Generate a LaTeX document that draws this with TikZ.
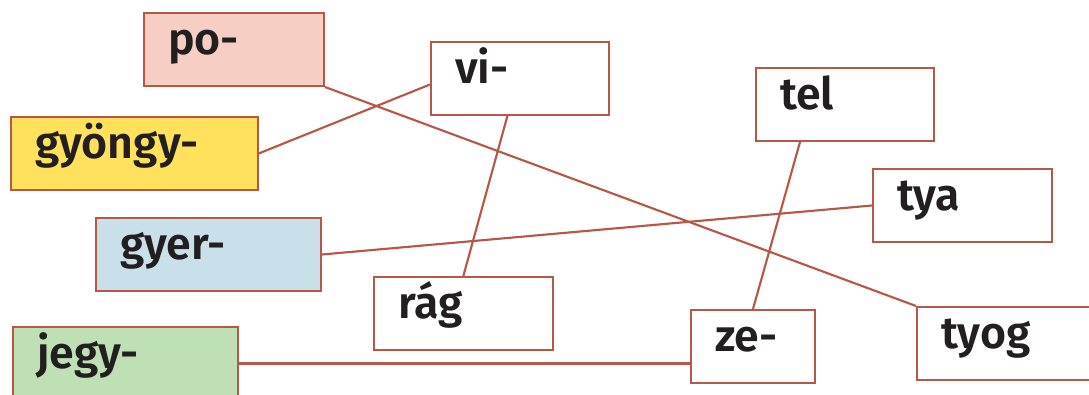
\documentclass[tikz,border=0pt]{standalone}
\usepackage{fontspec}
\setmainfont{Fira Sans}[BoldFont={Fira Sans SemiBold}]
\usepackage{tikz}
\usetikzlibrary{calc}
\definecolor{linkred}{RGB}{184, 86, 72}
\definecolor{tilepink}{RGB}{246, 206, 195}
\definecolor{tileyellow}{RGB}{255, 225, 91}
\definecolor{tileblue}{RGB}{201, 223, 233}
\definecolor{tilegreen}{RGB}{191, 224, 181}
\definecolor{inkdark}{RGB}{35, 31, 32}

\begin{document}
\begin{tikzpicture}[x=0.75pt, y=-0.75pt,
  tile/.style={draw=linkred, line width=1.5pt, fill=white, anchor=north west,
    minimum height=54.75pt, inner xsep=18pt, inner ysep=0pt, align=left,
    text=inkdark, text height=0.95em, text depth=0.2em,
    font=\fontsize{33.5}{38}\selectfont\bfseries, text width=#1},
  link/.style={draw=linkred, line width=1.6pt}]
\clip (0,0) rectangle (1089,395);
\useasboundingbox (0,0) rectangle (1089,395);

% word pieces
\node[tile=99pt, fill=tilepink] (po) at (143,12) {po-};
\node[tile=149pt, fill=tileyellow] (gyongy) at (10,116) {gyöngy-};
\node[tile=97.5pt] (vi) at (430,41) {vi-};
\node[tile=97.5pt] (tel) at (755,67) {tel};
\node[tile=98pt] (tya) at (872,168) {tya};
\node[tile=132.75pt, fill=tileblue] (gyer) at (95,217) {gyer-};
\node[tile=98pt] (rag) at (373,276) {rág};
\node[tile=57pt] (ze) at (690,309) {ze-};
\node[tile=99pt] (tyog) at (916,306) {tyog};
\node[tile=132.75pt, fill=tilegreen] (jegy) at (12,326) {jegy-};

% connections
\draw[link] (po.south east) -- (tyog.north west);
\draw[link] (gyongy.east) -- ($(vi.north west)!0.58!(vi.south west)$);
\draw[link] ($(vi.south west)!0.43!(vi.south east)$) -- (rag.north);
\draw[link] ($(tel.south west)!0.25!(tel.south east)$) -- (ze.north);
\draw[link] (gyer.east) -- (tya.west);
\draw[link] (jegy.east) -- (jegy.east -| ze.west);
\end{tikzpicture}
\end{document}
